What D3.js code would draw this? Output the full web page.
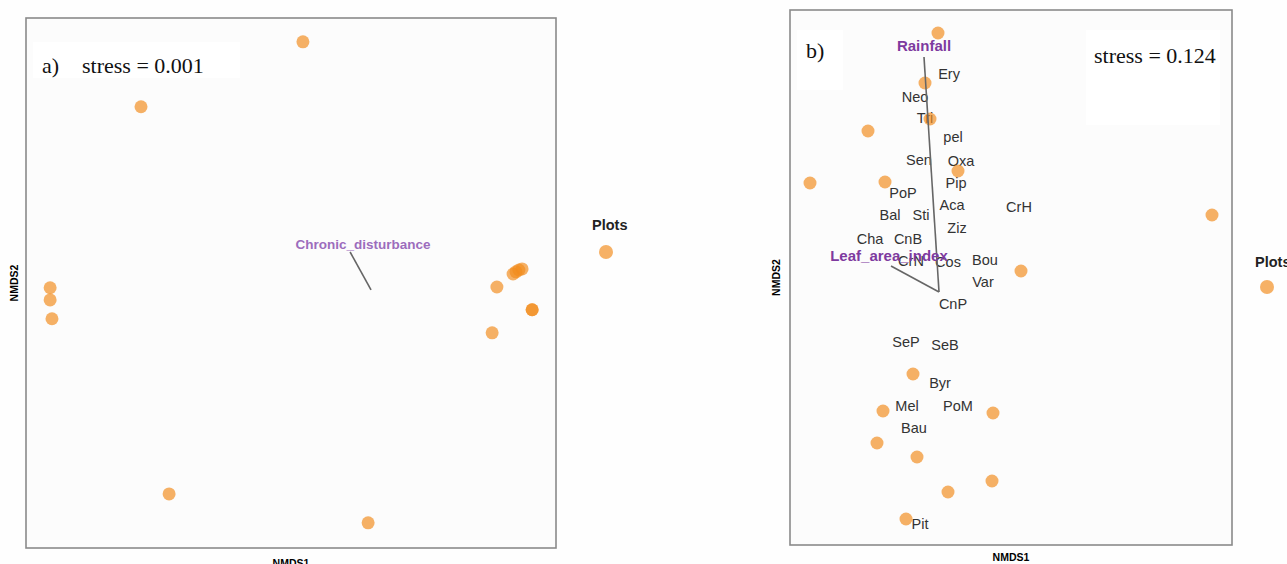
<!DOCTYPE html>
<html>
<head>
<meta charset="utf-8">
<script src="https://cdn.jsdelivr.net/npm/d3@7"></script>
<style>
  body { margin: 0; background: #fefefe; }
  svg { display: block; }
</style>
</head>
<body>
<div id="chart"></div>
<script>
// panel a: plot scores (NMDS1, NMDS2)
const plotsA = [
  [-0.257, 0.936], [-0.868, 0.691],
  [-1.211, 0.008], [-1.211, -0.038], [-1.204, -0.109],
  [0.475, 0.011], [0.536, 0.060], [0.547, 0.068], [0.558, 0.075], [0.570, 0.079],
  [0.608, -0.075], [0.608, -0.075], [0.457, -0.162],
  [-0.762, -0.770], [-0.011, -0.879]
];
// panel a: fitted vector (end point, label point)
const vectorsA = [
  { name: "Chronic_disturbance", x: -0.079, y: 0.143, lx: -0.03, ly: 0.17 }
];

// panel b: plot scores
const plotsB = [
  [-0.005, 1.295], [-0.07, 1.045], [-0.045, 0.865], [-0.355, 0.805],
  [-0.645, 0.545], [-0.27, 0.55], [0.095, 0.605], [1.365, 0.385],
  [0.41, 0.105], [-0.13, -0.41], [-0.28, -0.595], [0.27, -0.605],
  [-0.31, -0.755], [-0.11, -0.825], [0.265, -0.945], [0.045, -1.0],
  [-0.165, -1.135]
];
// panel b: species scores
const speciesB = [
  ["Ery", 0.05, 1.09], ["Neo", -0.12, 0.975], ["Tri", -0.07, 0.87],
  ["pel", 0.07, 0.775], ["Sen", -0.10, 0.66], ["Oxa", 0.11, 0.655],
  ["Pip", 0.085, 0.545], ["PoP", -0.18, 0.495], ["Aca", 0.065, 0.435],
  ["CrH", 0.40, 0.425], ["Bal", -0.245, 0.385], ["Sti", -0.09, 0.385],
  ["Ziz", 0.09, 0.32], ["Cha", -0.345, 0.265], ["CnB", -0.155, 0.265],
  ["CrN", -0.14, 0.155], ["Cos", 0.045, 0.15], ["Bou", 0.23, 0.16],
  ["Var", 0.22, 0.05], ["CnP", 0.07, -0.06], ["SeP", -0.165, -0.25],
  ["SeB", 0.03, -0.265], ["Byr", 0.005, -0.455], ["Mel", -0.16, -0.57],
  ["PoM", 0.095, -0.57], ["Bau", -0.125, -0.68], ["Pit", -0.095, -1.16]
];
const vectorsB = [
  { name: "Rainfall", x: -0.075, y: 1.175, lx: -0.075, ly: 1.235 },
  { name: "Leaf_area_index", x: -0.24, y: 0.13, lx: -0.25, ly: 0.185 }
];

const stressA = "stress = 0.001";
const stressB = "stress = 0.124";

const W = 1287, H = 564;
const ptFill = "#f28c1e";

const svg = d3.select("#chart").append("svg")
  .attr("width", W).attr("height", H);

function panel(opt) {
  const x = d3.scaleLinear().domain(opt.xd).range([opt.x0, opt.x1]);
  const y = d3.scaleLinear().domain(opt.yd).range([opt.y1, opt.y0]);
  const g = svg.append("g");

  g.append("rect")
    .attr("x", opt.x0).attr("y", opt.y0)
    .attr("width", opt.x1 - opt.x0).attr("height", opt.y1 - opt.y0)
    .attr("fill", "#fcfcfc")
    .attr("stroke", "#8a8a8a").attr("stroke-width", 1.6);

  // white annotation boxes
  opt.boxes.forEach(b => {
    g.append("rect").attr("x", b[0]).attr("y", b[1])
      .attr("width", b[2]).attr("height", b[3]).attr("fill", "#fff");
  });

  opt.texts.forEach(t => {
    g.append("text").attr("x", t[0]).attr("y", t[1])
      .attr("font-family", "Liberation Serif, Times New Roman, serif")
      .attr("font-size", 22).attr("fill", "#111")
      .text(t[2]);
  });

  // axis titles
  g.append("text")
    .attr("x", (opt.x0 + opt.x1) / 2).attr("y", opt.xlabY)
    .attr("text-anchor", "middle")
    .attr("font-family", "Liberation Sans, Arial, sans-serif")
    .attr("font-weight", "bold").attr("font-size", 10.5)
    .text("NMDS1");
  g.append("text")
    .attr("transform", `translate(${opt.ylabX},${(opt.y0 + opt.y1) / 2}) rotate(-90)`)
    .attr("text-anchor", "middle").attr("dy", "0.35em")
    .attr("font-family", "Liberation Sans, Arial, sans-serif")
    .attr("font-weight", "bold").attr("font-size", 10.5)
    .text("NMDS2");

  // species labels
  g.selectAll(".sp").data(opt.species || []).enter().append("text")
    .attr("x", d => x(d[1])).attr("y", d => y(d[2]))
    .attr("text-anchor", "middle").attr("dominant-baseline", "central")
    .attr("font-family", "Liberation Sans, Arial, sans-serif")
    .attr("font-size", 14.5).attr("fill", "#333")
    .text(d => d[0]);

  // plot points
  g.selectAll(".pt").data(opt.plots).enter().append("circle")
    .attr("cx", d => x(d[0])).attr("cy", d => y(d[1]))
    .attr("r", 6.5)
    .attr("fill", ptFill).attr("fill-opacity", 0.68);

  // vectors
  opt.vectors.forEach(v => {
    g.append("line")
      .attr("x1", x(0)).attr("y1", y(0))
      .attr("x2", x(v.x)).attr("y2", y(v.y))
      .attr("stroke", "#666").attr("stroke-width", 1.6);
    g.append("text")
      .attr("x", x(v.lx)).attr("y", y(v.ly))
      .attr("text-anchor", "middle").attr("dominant-baseline", "central")
      .attr("font-family", "Liberation Sans, Arial, sans-serif")
      .attr("font-weight", "bold").attr("font-size", opt.vecSize)
      .attr("fill", opt.vecColor)
      .text(v.name);
  });

  // legend
  g.append("text")
    .attr("x", opt.leg[0]).attr("y", opt.leg[1])
    .attr("font-family", "Liberation Sans, Arial, sans-serif")
    .attr("font-weight", "bold").attr("font-size", 14.5).attr("fill", "#222")
    .text("Plots");
  g.append("circle")
    .attr("cx", opt.leg[2]).attr("cy", opt.leg[3]).attr("r", 7)
    .attr("fill", ptFill).attr("fill-opacity", 0.68);
}

panel({
  x0: 26, x1: 556, y0: 18, y1: 548,
  xd: [-1.302, 0.698], yd: [-0.974, 1.026],
  plots: plotsA, vectors: vectorsA,
  vecColor: "#9c6dbd", vecSize: 13.5,
  boxes: [[33, 42, 207, 36]],
  texts: [[42, 73, "a)"], [82, 73, stressA]],
  xlabY: 567, ylabX: 14,
  leg: [592, 230, 606, 252]
});

panel({
  x0: 790, x1: 1232, y0: 10, y1: 545,
  xd: [-0.745, 1.465], yd: [-1.265, 1.41],
  plots: plotsB, species: speciesB, vectors: vectorsB,
  vecColor: "#7e3a9f", vecSize: 15,
  boxes: [[797, 30, 46, 60], [1086, 30, 134, 95]],
  texts: [[806, 58, "b)"], [1094, 63, stressB]],
  xlabY: 561, ylabX: 776,
  leg: [1255, 267, 1267, 287]
});
</script>
</body>
</html>
